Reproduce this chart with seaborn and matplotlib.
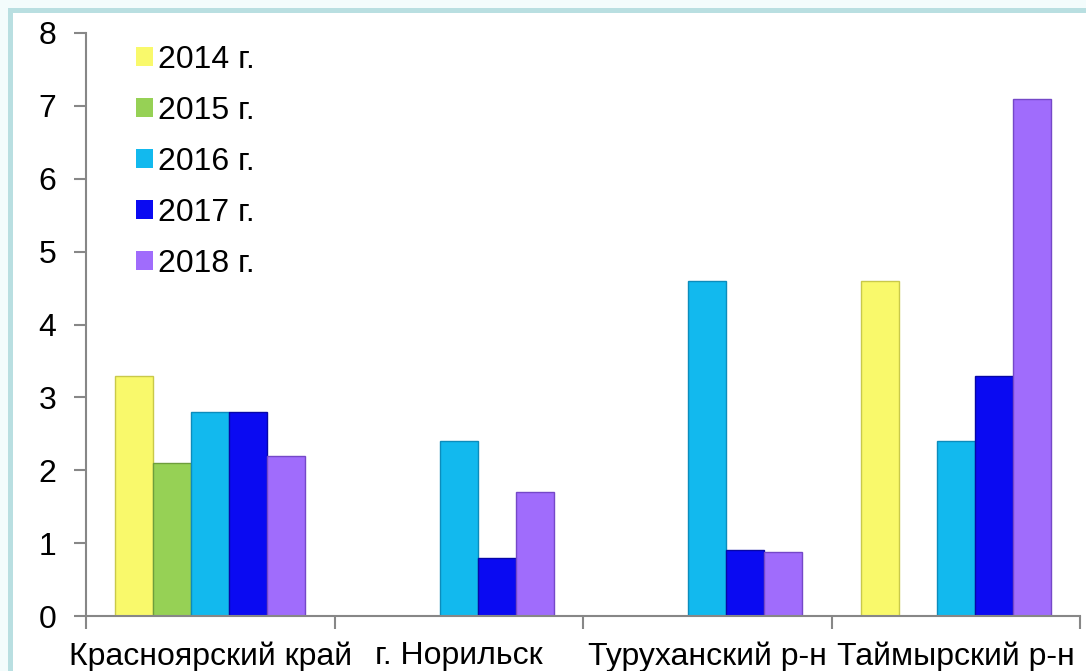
import matplotlib
matplotlib.use("Agg")
import matplotlib.pyplot as plt
import seaborn as sns
import pandas as pd
from matplotlib.patches import Rectangle

# Data
CATEGORIES = ["Красноярский край", "г. Норильск", "Туруханский р-н", "Таймырский р-н"]
YEARS = ["2014 г.", "2015 г.", "2016 г.", "2017 г.", "2018 г."]
VALUES_2014 = [3.3, 0, 0, 4.6]
VALUES_2015 = [2.1, 0, 0, 0]
VALUES_2016 = [2.8, 2.4, 4.6, 2.4]
VALUES_2017 = [2.8, 0.8, 0.9, 3.3]
VALUES_2018 = [2.2, 1.7, 0.88, 7.1]

COLORS = ["#f9f96b", "#96d155", "#12b9ee", "#0a0af2", "#a06cfc"]
EDGES = ["#c9c94a", "#6e9e3c", "#0c8cbc", "#0606a8", "#7548c8"]

rows = []
for year, vals in zip(YEARS, [VALUES_2014, VALUES_2015, VALUES_2016, VALUES_2017, VALUES_2018]):
    for cat, v in zip(CATEGORIES, vals):
        rows.append({"region": cat, "year": year, "value": v})
df = pd.DataFrame(rows)

sns.set_style("white")
plt.rcParams["font.family"] = ["Liberation Sans", "DejaVu Sans"]
plt.rcParams["text.color"] = "black"
plt.rcParams["xtick.labelcolor"] = "black"
plt.rcParams["ytick.labelcolor"] = "black"

fig = plt.figure(figsize=(10.86, 6.71), dpi=100)
fig.patch.set_facecolor("white")

# pale outer background + teal frame
fig.patches.append(Rectangle((0, 0), 1, 1, transform=fig.transFigure,
                             facecolor="#f3fcfc", edgecolor="none", zorder=-3))
fig.patches.append(Rectangle((8 / 1086, -0.1), 1.1, (671 - 8) / 671 + 0.1,
                             transform=fig.transFigure, facecolor="#b9dfe1",
                             edgecolor="none", zorder=-2))
fig.patches.append(Rectangle((13 / 1086, -0.1), 1.1, (671 - 13) / 671 + 0.1,
                             transform=fig.transFigure, facecolor="white",
                             edgecolor="none", zorder=-1))

ax = fig.add_axes([86 / 1086, (671 - 616) / 671, (1080 - 86) / 1086, (616 - 33) / 671])
ax.patch.set_alpha(0)

sns.barplot(data=df, x="region", y="value", hue="year", hue_order=YEARS,
            palette=COLORS, width=0.765, gap=0, ax=ax, saturation=1,
            edgecolor="none", linewidth=0)

# color the bar edges per series
for container, ec in zip(ax.containers, EDGES):
    for bar in container:
        bar.set_edgecolor(ec)
        bar.set_linewidth(1.0)
        if bar.get_height() == 0:
            bar.set_visible(False)

ax.set_ylim(0, 8)
ax.set_xlim(-0.5, 3.5)
ax.set_yticks(range(0, 9))
ax.set_xlabel("")
ax.set_ylabel("")

for s in ["top", "right"]:
    ax.spines[s].set_visible(False)
for s in ["left", "bottom"]:
    ax.spines[s].set_color("#878787")
    ax.spines[s].set_linewidth(1.5)

ax.tick_params(axis="y", which="major", direction="out", length=9, width=1.5,
               color="#878787", labelsize=23, pad=12.5, left=True)
ax.tick_params(axis="x", which="major", length=0, labelsize=23, pad=18)
ax.set_xticks([-0.5, 0.5, 1.5, 2.5, 3.5], minor=True)
ax.tick_params(axis="x", which="minor", direction="out", length=9, width=1.5,
               color="#878787", bottom=True)

leg = ax.legend(loc="upper left", bbox_to_anchor=(0.0214, 1.029), frameon=False,
                fontsize=23, handlelength=0.53, handleheight=0.53,
                handletextpad=0.15, labelspacing=0.66)

fig.savefig("out.png", dpi=100)
